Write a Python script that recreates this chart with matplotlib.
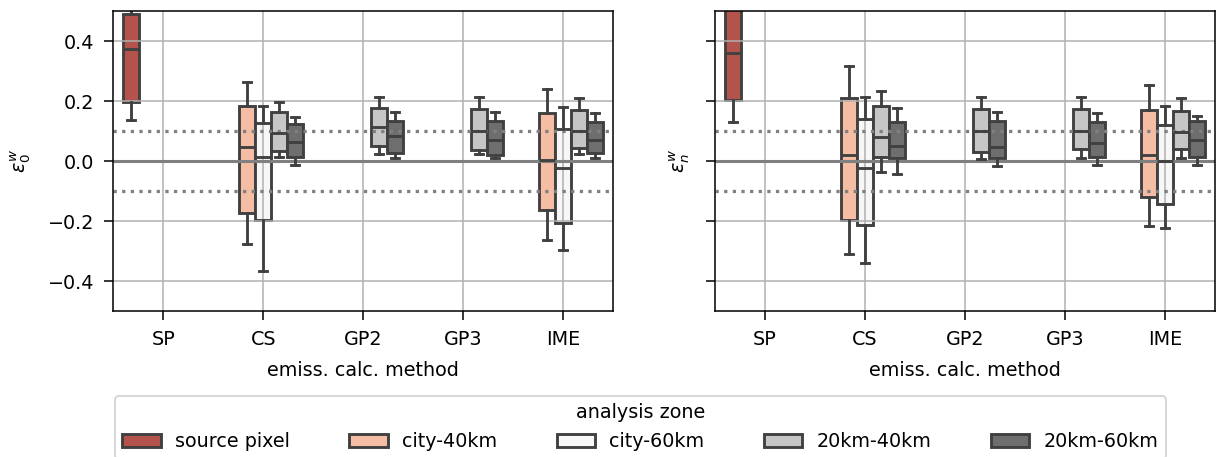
import matplotlib
matplotlib.use("Agg")
import matplotlib.pyplot as plt
from matplotlib.patches import Patch

DPI = 138

methods = ["SP", "CS", "GP2", "GP3", "IME"]
zones = ["source pixel", "city-40km", "city-60km", "20km-40km", "20km-60km"]
zone_colors = ["#b4534b", "#f5bea4", "#f7f7f7", "#c6c6c6", "#6e6e6e"]
edge = "#404040"

# box stats per method: (whislo, q1, median, q3, whishi), None = no box
# left panel: epsilon_0^w
e0_source_pixel = [(0.138, 0.199, 0.376, 0.490, 0.62), None, None, None, None]
e0_city_40 = [None, (-0.276, -0.171, 0.047, 0.185, 0.263), None, None,
              (-0.261, -0.161, 0.004, 0.160, 0.242)]
e0_city_60 = [None, (-0.364, -0.194, 0.016, 0.128, 0.186), None, None,
              (-0.294, -0.205, -0.021, 0.107, 0.181)]
e0_20_40 = [None, (0.015, 0.035, 0.094, 0.163, 0.197),
            (0.024, 0.051, 0.114, 0.177, 0.213),
            (0.023, 0.038, 0.101, 0.174, 0.216),
            (0.023, 0.043, 0.101, 0.172, 0.211)]
e0_20_60 = [None, (-0.012, 0.015, 0.066, 0.124, 0.147),
            (0.012, 0.029, 0.085, 0.136, 0.163),
            (0.012, 0.021, 0.071, 0.135, 0.164),
            (0.010, 0.027, 0.071, 0.132, 0.160)]

# right panel: epsilon_n^w
en_source_pixel = [(0.132, 0.205, 0.361, 0.62, 0.75), None, None, None, None]
en_city_40 = [None, (-0.310, -0.196, 0.021, 0.211, 0.319), None, None,
              (-0.215, -0.120, 0.021, 0.172, 0.255)]
en_city_60 = [None, (-0.339, -0.213, -0.023, 0.140, 0.216), None, None,
              (-0.222, -0.141, 0.000, 0.121, 0.185)]
en_20_40 = [None, (-0.035, 0.013, 0.082, 0.186, 0.235),
            (0.007, 0.032, 0.101, 0.174, 0.216),
            (0.012, 0.040, 0.102, 0.175, 0.213),
            (0.010, 0.040, 0.099, 0.169, 0.211)]
en_20_60 = [None, (-0.042, 0.010, 0.051, 0.132, 0.177),
            (-0.016, 0.010, 0.047, 0.135, 0.164),
            (-0.011, 0.015, 0.062, 0.130, 0.160),
            (-0.012, 0.015, 0.071, 0.136, 0.152)]

panels = [
    ([e0_source_pixel, e0_city_40, e0_city_60, e0_20_40, e0_20_60], r"$\varepsilon_0^w$"),
    ([en_source_pixel, en_city_40, en_city_60, en_20_40, en_20_60], r"$\varepsilon_n^w$"),
]

hue_offsets = [-0.32, -0.16, 0.0, 0.16, 0.32]

fig = plt.figure(figsize=(1216 / DPI, 457 / DPI), dpi=DPI)
ax0 = fig.add_axes([113.3 / 1216, 1 - 311.3 / 457, 500 / 1216, 300 / 457])
ax1 = fig.add_axes([715 / 1216, 1 - 311.3 / 457, 500 / 1216, 300 / 457], sharey=ax0)


def draw_panel(ax, series, ylabel):
    for j, zone_stats in enumerate(series):
        for i, s in enumerate(zone_stats):
            if s is None:
                continue
            st = dict(whislo=s[0], q1=s[1], med=s[2], q3=s[3], whishi=s[4], fliers=[])
            parts = ax.bxp([st], positions=[i + hue_offsets[j]], widths=0.157,
                           capwidths=[0.08], patch_artist=True, showfliers=False,
                           manage_ticks=False,
                           boxprops=dict(facecolor=zone_colors[j], edgecolor=edge, linewidth=1.5),
                           whiskerprops=dict(color=edge, linewidth=1.5),
                           capprops=dict(color=edge, linewidth=1.5),
                           medianprops=dict(color=edge, linewidth=1.5))
            for b in parts["boxes"]:
                b.set_zorder(1)
            for k in ("whiskers", "caps", "medians"):
                for ln in parts[k]:
                    ln.set_zorder(2)
    ax.axhline(0, color="grey", lw=1.6, zorder=1.6)
    for y in (-0.1, 0.1):
        ax.axhline(y, color="grey", ls=":", lw=1.7, zorder=1.6)
    ax.set_xticks(range(len(methods)))
    ax.set_xticklabels(methods)
    ax.set_xlim(-0.5, 4.5)
    ax.set_ylim(-0.5, 0.5)
    ax.set_yticks([-0.4, -0.2, 0.0, 0.2, 0.4])
    ax.grid(True)
    ax.tick_params(length=4.5, pad=5.5)
    ax.set_xlabel("emiss. calc. method", labelpad=6)
    ax.set_ylabel(ylabel)


draw_panel(ax0, *panels[0])
draw_panel(ax1, *panels[1])
ax1.tick_params(labelleft=False)
ax0.yaxis.set_label_coords(-0.16, 0.5)
ax1.yaxis.set_label_coords(-0.046, 0.5)

handles = [Patch(facecolor=c, edgecolor=edge, linewidth=1.5) for c in zone_colors]
fig.legend(handles, zones, title="analysis zone", ncol=5, loc="upper center",
           bbox_to_anchor=(640.5 / 1216, 1 - 395.7 / 457), borderaxespad=0,
           columnspacing=3.1, handletextpad=0.75)

fig.savefig("out.png", dpi=DPI)
